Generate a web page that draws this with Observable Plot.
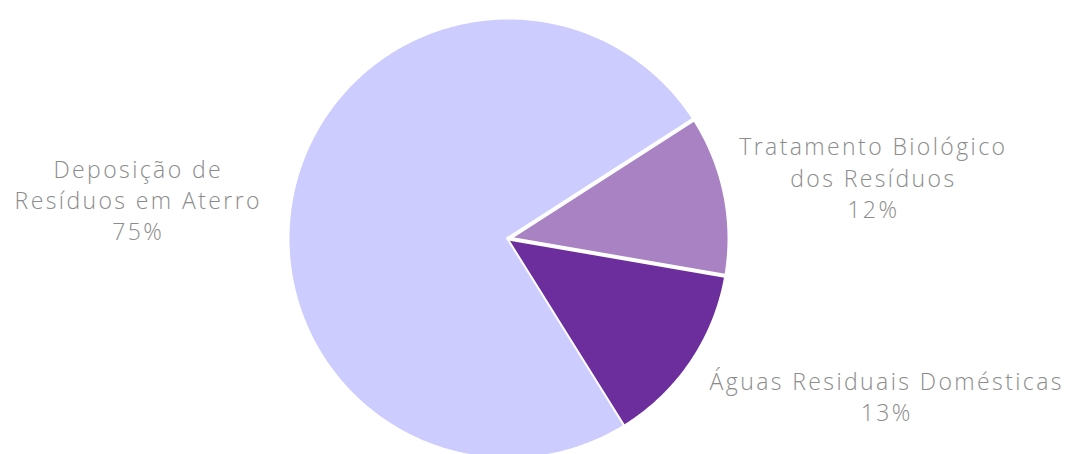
<!DOCTYPE html>
<html><head><meta charset="utf-8">
<script src="https://cdn.jsdelivr.net/npm/d3@7"></script>
<script src="https://cdn.jsdelivr.net/npm/@observablehq/plot@0.6"></script>
<style>body{margin:0;background:#fff;overflow:hidden} svg text{letter-spacing:2.4px}</style>
</head><body><div id="chart"></div>
<script>
// Data
const categories = ["Deposição de\nResíduos em Aterro", "Tratamento Biológico\ndos Resíduos", "Águas Residuais Domésticas"];
const shares = [74.8, 11.8, 13.4];
const colors = ["#ccccff", "#a982c4", "#6d2e9d"];

// Layout (not data)
const W = 1072, H = 454, CX = 508, CY = 238, R = 221;
const startAngleDeg = 148; // first slice angle, clockwise from 12 o'clock
const labelRadius = 1.68;
const labelNudge = [[-8, 42], [1, 12], [70, -50]]; // px

const total = d3.sum(shares);
let acc = startAngleDeg;
const slices = categories.map((name, i) => {
  const a0 = acc, a1 = acc + shares[i] / total * 360;
  acc = a1;
  return {name, share: shares[i], a0, a1, mid: (a0 + a1) / 2};
});

const rad = d => d * Math.PI / 180;
const pts = [];
for (const s of slices) {
  pts.push({name: s.name, x: 0, y: 0});
  const n = Math.ceil((s.a1 - s.a0) / 0.5);
  for (let k = 0; k <= n; k++) {
    const a = rad(s.a0 + (s.a1 - s.a0) * k / n);
    pts.push({name: s.name, x: Math.sin(a), y: Math.cos(a)});
  }
}
const labels = slices.map((s, i) => ({
  x: labelRadius * Math.sin(rad(s.mid)),
  y: labelRadius * Math.cos(rad(s.mid)),
  text: s.name + "\n" + Math.round(s.share) + "%",
  i
}));

const chart = Plot.plot({
  width: W, height: H, margin: 0,
  style: {background: "#fff"},
  x: {domain: [-CX / R, (W - CX) / R], axis: null},
  y: {domain: [-(H - CY) / R, CY / R], axis: null},
  color: {domain: categories, range: colors},
  marks: [
    Plot.line(pts, {x: "x", y: "y", z: "name", fill: "name", stroke: "white", strokeWidth: 4, strokeLinejoin: "round", curve: "linear"}),
    ...labels.map(l => Plot.text([l], {
      x: "x", y: "y", text: "text",
      dx: labelNudge[l.i][0], dy: labelNudge[l.i][1],
      fontSize: 23, lineHeight: 1.35, fill: "#8c8c8c",
      fontFamily: "'Open Sans', Lato, sans-serif", fontWeight: 300,
      textAnchor: "middle"
    }))
  ]
});
document.getElementById("chart").appendChild(chart);
</script>
</body></html>
